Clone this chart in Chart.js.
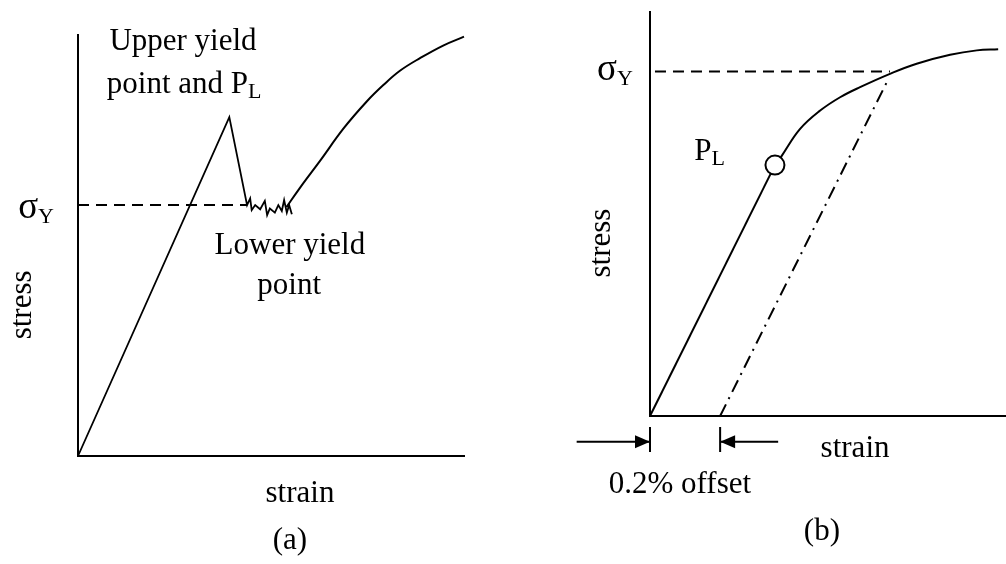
<!DOCTYPE html>
<html lang="en">
<head>
    <meta charset="UTF-8">
    <title>Stress-strain curves</title>
    <style>
        body {
            margin: 0;
            background: #fff;
            width: 1006px;
            height: 564px;
            overflow: hidden;
            position: relative;
        }
        canvas {
            position: absolute;
            top: 0;
        }
        #chartA { left: 0; }
        #chartB { left: 503px; }
    </style>
</head>
<body>
    <canvas id="chartA" width="503" height="564"></canvas>
    <canvas id="chartB" width="503" height="564"></canvas>

    <script src="https://cdn.jsdelivr.net/npm/chart.js"></script>
    <script>
        // (a) elastic rise, upper yield point, drop and serrated yielding
        const aYieldStrain = [0, 39.2, 43.8, 44.6, 45.0, 45.9, 47.2, 48.4, 49.0, 49.7, 51.0, 51.9, 52.8, 53.4, 54.1, 54.7, 55.4];
        const aYieldStress = [0, 80.5, 59.6, 61.2, 58.4, 59.6, 58.6, 60.6, 57.2, 58.8, 57.8, 59.6, 58.2, 60.8, 57.8, 59.6, 57.4];
        // (a) strain hardening
        const aHardStrain = [54.0, 57.5, 62.7, 68.8, 74.8, 79.1, 83.4, 88.6, 94.6, 100];
        const aHardStress = [59.1, 63.7, 70.1, 77.8, 84.2, 88.1, 91.5, 94.5, 97.5, 99.6];
        // (a) lower yield level
        const aSigmaY = 59.6;
        const aSigmaYStrain = [0, 43.8];

        // (b) linear part up to proportional limit
        const bLinStrain = [0, 35.1];
        const bLinStress = [0, 62.1];
        // (b) curve after P_L
        const bCurveStrain = [35.1, 37.0, 42.1, 47.8, 53.4, 59.0, 67.4, 74.9, 84.3, 91.8, 97.8];
        const bCurveStress = [62.1, 64.4, 71.0, 75.6, 78.9, 81.4, 84.7, 87.2, 89.4, 90.5, 90.8];
        // (b) 0.2% offset line
        const bOffsetStrain = [19.7, 66.5];
        const bOffsetStress = [0, 82.6];
        const bSigmaY = 85.3;
        const bSigmaYStrain = [1.4, 67.4];
        // (b) offset dimension marks (below the axis)
        const bArrowY = -6.4;
        const bLeftShaft = [-20.6, 0];
        const bRightShaft = [19.7, 36.0];
        const bTickStress = [-2.7, -8.9];

        const zip = (xs, ys) => xs.map((x, i) => ({ x: x, y: ys[i] }));
        const flat = (xs, v) => xs.map(x => ({ x: x, y: v }));

        const serif = '"Liberation Serif", "Times New Roman", serif';

        function axes() {
            const ax = () => ({
                type: 'linear',
                min: 0,
                max: 100,
                grid: { display: false, drawTicks: false },
                ticks: { display: false },
                border: { display: true, color: '#000', width: 2 }
            });
            return { x: ax(), y: ax() };
        }

        function line(data, extra) {
            return Object.assign({
                data: data,
                borderColor: '#000',
                borderWidth: 2,
                pointRadius: 0,
                fill: false,
                tension: 0,
                clip: false
            }, extra || {});
        }

        // draws text labels and arrow heads, placed in data units
        const notes = {
            id: 'notes',
            afterDraw(chart, args, opts) {
                const { ctx, scales: { x, y } } = chart;
                ctx.save();
                ctx.fillStyle = '#000';
                (opts.heads || []).forEach(h => {
                    const px = x.getPixelForValue(h.x);
                    const py = y.getPixelForValue(h.y);
                    ctx.beginPath();
                    ctx.moveTo(px, py);
                    ctx.lineTo(px - h.dir * 15, py - 6.5);
                    ctx.lineTo(px - h.dir * 15, py + 6.5);
                    ctx.closePath();
                    ctx.fill();
                });
                opts.items.forEach(it => {
                    const px = x.getPixelForValue(it.x);
                    const py = y.getPixelForValue(it.y);
                    const mainFont = (it.size || 31) + 'px ' + serif;
                    ctx.font = mainFont;
                    ctx.textBaseline = 'alphabetic';
                    if (it.rotate) {
                        ctx.save();
                        ctx.translate(px, py);
                        ctx.rotate(-Math.PI / 2);
                        ctx.textAlign = 'center';
                        ctx.textBaseline = 'middle';
                        ctx.fillText(it.text, 0, 0);
                        ctx.restore();
                        return;
                    }
                    const w1 = ctx.measureText(it.text).width;
                    let w2 = 0;
                    if (it.sub) {
                        ctx.font = '22px ' + serif;
                        w2 = ctx.measureText(it.sub).width;
                    }
                    const start = it.align === 'left' ? px : px - (w1 + w2) / 2;
                    ctx.textAlign = 'left';
                    ctx.font = mainFont;
                    ctx.fillText(it.text, start, py);
                    if (it.sub) {
                        ctx.font = '22px ' + serif;
                        ctx.fillText(it.sub, start + w1, py + 5);
                    }
                });
                ctx.restore();
            }
        };

        const base = {
            responsive: false,
            animation: false,
            devicePixelRatio: 1,
            events: [],
            plugins: { legend: { display: false }, tooltip: { enabled: false } }
        };

        new Chart(document.getElementById('chartA'), {
            type: 'line',
            data: {
                datasets: [
                    line(zip(aYieldStrain, aYieldStress), { borderWidth: 1.8 }),
                    line(zip(aHardStrain, aHardStress), { tension: 0.4 }),
                    line(flat(aSigmaYStrain, aSigmaY), { borderDash: [11, 7] })
                ]
            },
            options: Object.assign({}, base, {
                layout: { autoPadding: false, padding: { left: 78, top: 35, right: 39, bottom: 108 } },
                scales: axes(),
                plugins: Object.assign({}, base.plugins, {
                    notes: {
                        items: [
                            { text: 'Upper yield', x: 27.2, y: 96.4 },
                            { text: 'point and P', sub: 'L', x: 27.5, y: 86.2 },
                            { text: 'σ', sub: 'Y', x: -15.5, y: 56.5, align: 'left', size: 37 },
                            { text: 'Lower yield', x: 54.9, y: 48.0 },
                            { text: 'point', x: 54.7, y: 38.5 },
                            { text: 'strain', x: 57.5, y: -10.9 },
                            { text: '(a)', x: 54.9, y: -22.1 },
                            { text: 'stress', x: -14.2, y: 35.9, rotate: true }
                        ]
                    }
                })
            }),
            plugins: [notes]
        });

        new Chart(document.getElementById('chartB'), {
            type: 'line',
            data: {
                datasets: [
                    // proportional limit marker, drawn on top
                    line([{ x: bLinStrain[1], y: bLinStress[1] }], {
                        pointRadius: 9.5, pointBackgroundColor: '#fff',
                        pointBorderColor: '#000', pointBorderWidth: 2, showLine: false
                    }),
                    line(zip(bLinStrain, bLinStress)),
                    line(zip(bCurveStrain, bCurveStress), { tension: 0.4 }),
                    line(zip(bOffsetStrain, bOffsetStress), { borderDash: [13, 6, 2, 6] }),
                    line(flat(bSigmaYStrain, bSigmaY), { borderDash: [11, 7] }),
                    line(flat(bLeftShaft, bArrowY)),
                    line(flat(bRightShaft, bArrowY)),
                    line(bTickStress.map(v => ({ x: 0, y: v }))),
                    line(bTickStress.map(v => ({ x: bOffsetStrain[0], y: v })))
                ]
            },
            options: Object.assign({}, base, {
                layout: { autoPadding: false, padding: { left: 147, top: 12, right: 0, bottom: 148 } },
                scales: axes(),
                plugins: Object.assign({}, base.plugins, {
                    notes: {
                        heads: [
                            { x: bLeftShaft[1], y: bArrowY, dir: 1 },
                            { x: bRightShaft[0], y: bArrowY, dir: -1 }
                        ],
                        items: [
                            { text: 'σ', sub: 'Y', x: -14.9, y: 83.2, align: 'left', size: 37 },
                            { text: 'P', sub: 'L', x: 12.4, y: 63.4, align: 'left' },
                            { text: 'stress', x: -13.5, y: 42.8, rotate: true },
                            { text: 'strain', x: 57.6, y: -10.1 },
                            { text: '0.2% offset', x: 8.4, y: -19.1 },
                            { text: '(b)', x: 48.3, y: -30.7 }
                        ]
                    }
                })
            }),
            plugins: [notes]
        });
    </script>
</body>
</html>
